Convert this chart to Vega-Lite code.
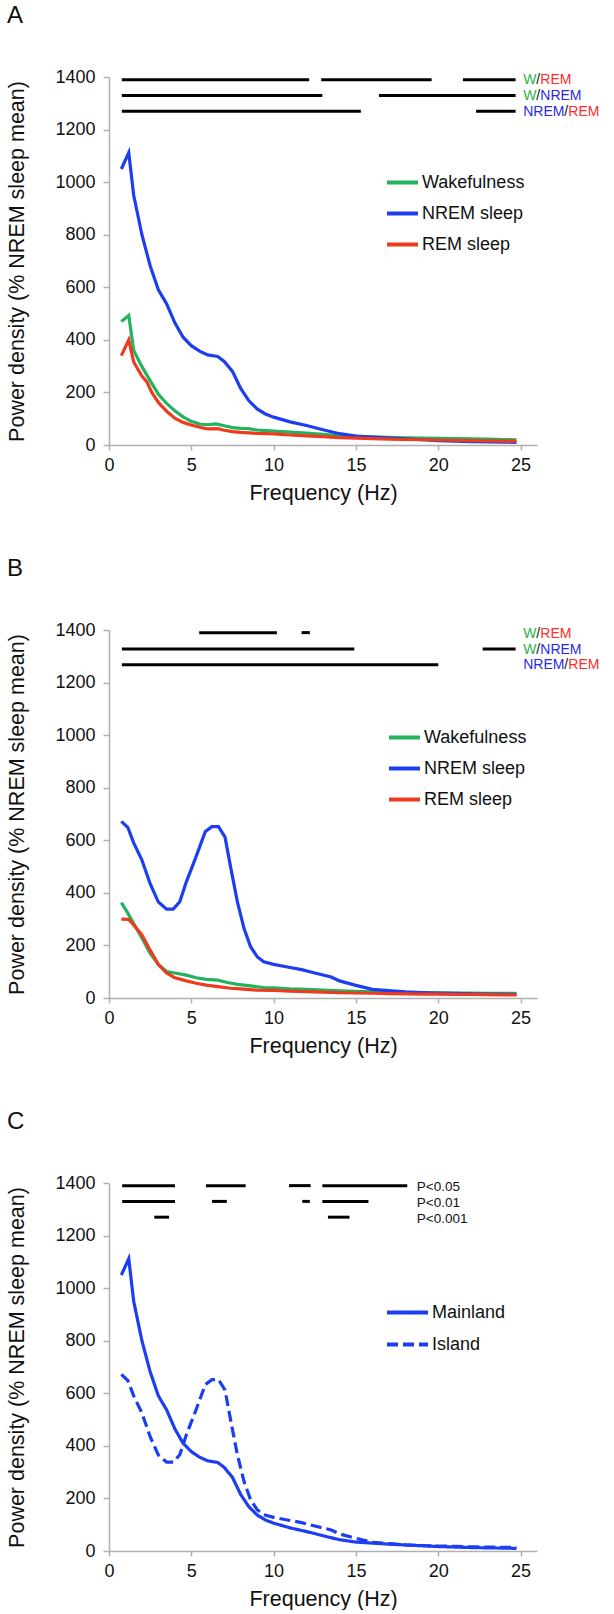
{
  "$schema": "https://vega.github.io/schema/vega-lite/v6.json",
  "padding": {"left": 6, "top": 4, "right": 0, "bottom": 0},
  "background": "white",
  "config": {
    "font": "Liberation Sans",
    "view": {"stroke": null},
    "axis": {"grid": false, "domainColor": "#b0b0b0", "tickColor": "#b0b0b0", "domainWidth": 1.5, "tickWidth": 1.5, "labelFontSize": 18, "labelColor": "#111111", "titleFontSize": 21.5, "titleFontWeight": "normal", "titleColor": "#111111", "labelFont": "Liberation Sans", "titleFont": "Liberation Sans", "format": "d"},
    "axisX": {"tickSize": 5, "labelPadding": 6, "titlePadding": 8, "labelFlush": false},
    "axisY": {"tickSize": 6, "labelPadding": 8, "titlePadding": 26},
    "legend": {"labelFontSize": 18, "labelFont": "Liberation Sans", "labelColor": "#111111", "symbolType": "stroke", "symbolStrokeWidth": 4, "labelOffset": 2, "rowPadding": 4, "padding": 0},
    "title": {"fontSize": 24, "fontWeight": "normal", "anchor": "start", "offset": 40, "font": "Liberation Sans", "color": "#111111"}
  },
  "resolve": {"scale": {"color": "independent", "strokeDash": "independent", "fill": "independent"}, "legend": {"color": "independent", "strokeDash": "independent"}},
  "spacing": 53,
  "datasets": {
    "curves": [
      {"panel": "A", "series": "Wakefulness", "f": 0.75, "p": 470}, {"panel": "A", "series": "Wakefulness", "f": 1.2, "p": 493}, {"panel": "A", "series": "Wakefulness", "f": 1.5, "p": 360}, {"panel": "A", "series": "Wakefulness", "f": 2, "p": 298}, {"panel": "A", "series": "Wakefulness", "f": 2.5, "p": 245}, {"panel": "A", "series": "Wakefulness", "f": 3, "p": 193}, {"panel": "A", "series": "Wakefulness", "f": 3.5, "p": 158}, {"panel": "A", "series": "Wakefulness", "f": 4, "p": 130}, {"panel": "A", "series": "Wakefulness", "f": 4.5, "p": 107}, {"panel": "A", "series": "Wakefulness", "f": 5, "p": 90}, {"panel": "A", "series": "Wakefulness", "f": 5.5, "p": 80}, {"panel": "A", "series": "Wakefulness", "f": 6, "p": 77}, {"panel": "A", "series": "Wakefulness", "f": 6.5, "p": 80}, {"panel": "A", "series": "Wakefulness", "f": 7, "p": 73}, {"panel": "A", "series": "Wakefulness", "f": 7.5, "p": 66}, {"panel": "A", "series": "Wakefulness", "f": 8, "p": 63}, {"panel": "A", "series": "Wakefulness", "f": 8.5, "p": 62}, {"panel": "A", "series": "Wakefulness", "f": 9, "p": 57}, {"panel": "A", "series": "Wakefulness", "f": 9.5, "p": 55}, {"panel": "A", "series": "Wakefulness", "f": 10, "p": 53}, {"panel": "A", "series": "Wakefulness", "f": 11, "p": 49}, {"panel": "A", "series": "Wakefulness", "f": 12, "p": 45}, {"panel": "A", "series": "Wakefulness", "f": 13, "p": 41}, {"panel": "A", "series": "Wakefulness", "f": 14, "p": 36}, {"panel": "A", "series": "Wakefulness", "f": 15, "p": 33}, {"panel": "A", "series": "Wakefulness", "f": 16, "p": 31}, {"panel": "A", "series": "Wakefulness", "f": 17, "p": 29}, {"panel": "A", "series": "Wakefulness", "f": 18, "p": 27}, {"panel": "A", "series": "Wakefulness", "f": 19, "p": 26}, {"panel": "A", "series": "Wakefulness", "f": 20, "p": 25}, {"panel": "A", "series": "Wakefulness", "f": 21, "p": 24}, {"panel": "A", "series": "Wakefulness", "f": 22, "p": 23}, {"panel": "A", "series": "Wakefulness", "f": 23, "p": 22}, {"panel": "A", "series": "Wakefulness", "f": 24, "p": 21}, {"panel": "A", "series": "Wakefulness", "f": 24.75, "p": 20},
      {"panel": "A", "series": "NREM sleep", "f": 0.75, "p": 1050}, {"panel": "A", "series": "NREM sleep", "f": 1.2, "p": 1112}, {"panel": "A", "series": "NREM sleep", "f": 1.5, "p": 950}, {"panel": "A", "series": "NREM sleep", "f": 2, "p": 800}, {"panel": "A", "series": "NREM sleep", "f": 2.5, "p": 682}, {"panel": "A", "series": "NREM sleep", "f": 3, "p": 590}, {"panel": "A", "series": "NREM sleep", "f": 3.5, "p": 537}, {"panel": "A", "series": "NREM sleep", "f": 4, "p": 465}, {"panel": "A", "series": "NREM sleep", "f": 4.5, "p": 410}, {"panel": "A", "series": "NREM sleep", "f": 5, "p": 378}, {"panel": "A", "series": "NREM sleep", "f": 5.5, "p": 357}, {"panel": "A", "series": "NREM sleep", "f": 6, "p": 343}, {"panel": "A", "series": "NREM sleep", "f": 6.6, "p": 337}, {"panel": "A", "series": "NREM sleep", "f": 7, "p": 318}, {"panel": "A", "series": "NREM sleep", "f": 7.5, "p": 280}, {"panel": "A", "series": "NREM sleep", "f": 8, "p": 215}, {"panel": "A", "series": "NREM sleep", "f": 8.5, "p": 168}, {"panel": "A", "series": "NREM sleep", "f": 9, "p": 137}, {"panel": "A", "series": "NREM sleep", "f": 9.5, "p": 118}, {"panel": "A", "series": "NREM sleep", "f": 10, "p": 106}, {"panel": "A", "series": "NREM sleep", "f": 11, "p": 88}, {"panel": "A", "series": "NREM sleep", "f": 12, "p": 74}, {"panel": "A", "series": "NREM sleep", "f": 13, "p": 58}, {"panel": "A", "series": "NREM sleep", "f": 14, "p": 43}, {"panel": "A", "series": "NREM sleep", "f": 15, "p": 34}, {"panel": "A", "series": "NREM sleep", "f": 16, "p": 30}, {"panel": "A", "series": "NREM sleep", "f": 17, "p": 26}, {"panel": "A", "series": "NREM sleep", "f": 18, "p": 23}, {"panel": "A", "series": "NREM sleep", "f": 19, "p": 20}, {"panel": "A", "series": "NREM sleep", "f": 20, "p": 17}, {"panel": "A", "series": "NREM sleep", "f": 21, "p": 15}, {"panel": "A", "series": "NREM sleep", "f": 22, "p": 13}, {"panel": "A", "series": "NREM sleep", "f": 23, "p": 12}, {"panel": "A", "series": "NREM sleep", "f": 24, "p": 11}, {"panel": "A", "series": "NREM sleep", "f": 24.75, "p": 10},
      {"panel": "A", "series": "REM sleep", "f": 0.75, "p": 340}, {"panel": "A", "series": "REM sleep", "f": 1.2, "p": 400}, {"panel": "A", "series": "REM sleep", "f": 1.5, "p": 316}, {"panel": "A", "series": "REM sleep", "f": 2, "p": 262}, {"panel": "A", "series": "REM sleep", "f": 2.3, "p": 240}, {"panel": "A", "series": "REM sleep", "f": 2.6, "p": 200}, {"panel": "A", "series": "REM sleep", "f": 3, "p": 162}, {"panel": "A", "series": "REM sleep", "f": 3.5, "p": 128}, {"panel": "A", "series": "REM sleep", "f": 4, "p": 102}, {"panel": "A", "series": "REM sleep", "f": 4.5, "p": 86}, {"panel": "A", "series": "REM sleep", "f": 5, "p": 76}, {"panel": "A", "series": "REM sleep", "f": 5.5, "p": 68}, {"panel": "A", "series": "REM sleep", "f": 6, "p": 61}, {"panel": "A", "series": "REM sleep", "f": 6.6, "p": 62}, {"panel": "A", "series": "REM sleep", "f": 7, "p": 56}, {"panel": "A", "series": "REM sleep", "f": 7.5, "p": 51}, {"panel": "A", "series": "REM sleep", "f": 8, "p": 48}, {"panel": "A", "series": "REM sleep", "f": 8.5, "p": 46}, {"panel": "A", "series": "REM sleep", "f": 9, "p": 44}, {"panel": "A", "series": "REM sleep", "f": 9.5, "p": 43}, {"panel": "A", "series": "REM sleep", "f": 10, "p": 42}, {"panel": "A", "series": "REM sleep", "f": 11, "p": 38}, {"panel": "A", "series": "REM sleep", "f": 12, "p": 35}, {"panel": "A", "series": "REM sleep", "f": 13, "p": 32}, {"panel": "A", "series": "REM sleep", "f": 14, "p": 28}, {"panel": "A", "series": "REM sleep", "f": 15, "p": 26}, {"panel": "A", "series": "REM sleep", "f": 16, "p": 24}, {"panel": "A", "series": "REM sleep", "f": 17, "p": 22}, {"panel": "A", "series": "REM sleep", "f": 18, "p": 21}, {"panel": "A", "series": "REM sleep", "f": 19, "p": 20}, {"panel": "A", "series": "REM sleep", "f": 20, "p": 19}, {"panel": "A", "series": "REM sleep", "f": 21, "p": 18}, {"panel": "A", "series": "REM sleep", "f": 22, "p": 17}, {"panel": "A", "series": "REM sleep", "f": 23, "p": 16}, {"panel": "A", "series": "REM sleep", "f": 24, "p": 15}, {"panel": "A", "series": "REM sleep", "f": 24.75, "p": 15},
      {"panel": "B", "series": "Wakefulness", "f": 0.75, "p": 363}, {"panel": "B", "series": "Wakefulness", "f": 1.15, "p": 322}, {"panel": "B", "series": "Wakefulness", "f": 1.5, "p": 283}, {"panel": "B", "series": "Wakefulness", "f": 2, "p": 228}, {"panel": "B", "series": "Wakefulness", "f": 2.5, "p": 170}, {"panel": "B", "series": "Wakefulness", "f": 3, "p": 128}, {"panel": "B", "series": "Wakefulness", "f": 3.5, "p": 101}, {"panel": "B", "series": "Wakefulness", "f": 4, "p": 95}, {"panel": "B", "series": "Wakefulness", "f": 4.7, "p": 87}, {"panel": "B", "series": "Wakefulness", "f": 5.3, "p": 77}, {"panel": "B", "series": "Wakefulness", "f": 5.9, "p": 71}, {"panel": "B", "series": "Wakefulness", "f": 6.6, "p": 68}, {"panel": "B", "series": "Wakefulness", "f": 7.2, "p": 59}, {"panel": "B", "series": "Wakefulness", "f": 7.8, "p": 52}, {"panel": "B", "series": "Wakefulness", "f": 8.6, "p": 46}, {"panel": "B", "series": "Wakefulness", "f": 9.4, "p": 40}, {"panel": "B", "series": "Wakefulness", "f": 10, "p": 39}, {"panel": "B", "series": "Wakefulness", "f": 11, "p": 35}, {"panel": "B", "series": "Wakefulness", "f": 12, "p": 33}, {"panel": "B", "series": "Wakefulness", "f": 13, "p": 30}, {"panel": "B", "series": "Wakefulness", "f": 14, "p": 27}, {"panel": "B", "series": "Wakefulness", "f": 15, "p": 25}, {"panel": "B", "series": "Wakefulness", "f": 16, "p": 23}, {"panel": "B", "series": "Wakefulness", "f": 17, "p": 22}, {"panel": "B", "series": "Wakefulness", "f": 18, "p": 21}, {"panel": "B", "series": "Wakefulness", "f": 19, "p": 20}, {"panel": "B", "series": "Wakefulness", "f": 20, "p": 20}, {"panel": "B", "series": "Wakefulness", "f": 21, "p": 19}, {"panel": "B", "series": "Wakefulness", "f": 22, "p": 19}, {"panel": "B", "series": "Wakefulness", "f": 23, "p": 18}, {"panel": "B", "series": "Wakefulness", "f": 24, "p": 18}, {"panel": "B", "series": "Wakefulness", "f": 24.75, "p": 18},
      {"panel": "B", "series": "NREM sleep", "f": 0.75, "p": 672}, {"panel": "B", "series": "NREM sleep", "f": 1.15, "p": 648}, {"panel": "B", "series": "NREM sleep", "f": 1.5, "p": 590}, {"panel": "B", "series": "NREM sleep", "f": 2, "p": 525}, {"panel": "B", "series": "NREM sleep", "f": 2.5, "p": 435}, {"panel": "B", "series": "NREM sleep", "f": 3, "p": 365}, {"panel": "B", "series": "NREM sleep", "f": 3.5, "p": 338}, {"panel": "B", "series": "NREM sleep", "f": 3.9, "p": 338}, {"panel": "B", "series": "NREM sleep", "f": 4.3, "p": 366}, {"panel": "B", "series": "NREM sleep", "f": 4.7, "p": 442}, {"panel": "B", "series": "NREM sleep", "f": 5.25, "p": 531}, {"panel": "B", "series": "NREM sleep", "f": 5.85, "p": 633}, {"panel": "B", "series": "NREM sleep", "f": 6.25, "p": 652}, {"panel": "B", "series": "NREM sleep", "f": 6.65, "p": 652}, {"panel": "B", "series": "NREM sleep", "f": 7.05, "p": 612}, {"panel": "B", "series": "NREM sleep", "f": 7.4, "p": 494}, {"panel": "B", "series": "NREM sleep", "f": 7.8, "p": 366}, {"panel": "B", "series": "NREM sleep", "f": 8.2, "p": 265}, {"panel": "B", "series": "NREM sleep", "f": 8.6, "p": 195}, {"panel": "B", "series": "NREM sleep", "f": 9, "p": 157}, {"panel": "B", "series": "NREM sleep", "f": 9.4, "p": 138}, {"panel": "B", "series": "NREM sleep", "f": 10, "p": 128}, {"panel": "B", "series": "NREM sleep", "f": 11, "p": 116}, {"panel": "B", "series": "NREM sleep", "f": 11.7, "p": 108}, {"panel": "B", "series": "NREM sleep", "f": 12.5, "p": 95}, {"panel": "B", "series": "NREM sleep", "f": 13.5, "p": 80}, {"panel": "B", "series": "NREM sleep", "f": 14, "p": 65}, {"panel": "B", "series": "NREM sleep", "f": 15, "p": 48}, {"panel": "B", "series": "NREM sleep", "f": 16, "p": 33}, {"panel": "B", "series": "NREM sleep", "f": 17, "p": 28}, {"panel": "B", "series": "NREM sleep", "f": 18, "p": 23}, {"panel": "B", "series": "NREM sleep", "f": 19, "p": 21}, {"panel": "B", "series": "NREM sleep", "f": 20, "p": 19}, {"panel": "B", "series": "NREM sleep", "f": 21, "p": 18}, {"panel": "B", "series": "NREM sleep", "f": 22, "p": 16}, {"panel": "B", "series": "NREM sleep", "f": 23, "p": 15}, {"panel": "B", "series": "NREM sleep", "f": 24, "p": 14}, {"panel": "B", "series": "NREM sleep", "f": 24.75, "p": 14},
      {"panel": "B", "series": "REM sleep", "f": 0.75, "p": 300}, {"panel": "B", "series": "REM sleep", "f": 1.2, "p": 299}, {"panel": "B", "series": "REM sleep", "f": 1.5, "p": 278}, {"panel": "B", "series": "REM sleep", "f": 2, "p": 240}, {"panel": "B", "series": "REM sleep", "f": 2.5, "p": 182}, {"panel": "B", "series": "REM sleep", "f": 3, "p": 127}, {"panel": "B", "series": "REM sleep", "f": 3.5, "p": 95}, {"panel": "B", "series": "REM sleep", "f": 4, "p": 77}, {"panel": "B", "series": "REM sleep", "f": 4.7, "p": 65}, {"panel": "B", "series": "REM sleep", "f": 5.3, "p": 56}, {"panel": "B", "series": "REM sleep", "f": 5.9, "p": 49}, {"panel": "B", "series": "REM sleep", "f": 6.6, "p": 43}, {"panel": "B", "series": "REM sleep", "f": 7.4, "p": 37}, {"panel": "B", "series": "REM sleep", "f": 8.2, "p": 34}, {"panel": "B", "series": "REM sleep", "f": 9, "p": 30}, {"panel": "B", "series": "REM sleep", "f": 10, "p": 29}, {"panel": "B", "series": "REM sleep", "f": 11, "p": 26}, {"panel": "B", "series": "REM sleep", "f": 12, "p": 24}, {"panel": "B", "series": "REM sleep", "f": 13, "p": 22}, {"panel": "B", "series": "REM sleep", "f": 14, "p": 20}, {"panel": "B", "series": "REM sleep", "f": 15, "p": 19}, {"panel": "B", "series": "REM sleep", "f": 16, "p": 18}, {"panel": "B", "series": "REM sleep", "f": 17, "p": 17}, {"panel": "B", "series": "REM sleep", "f": 18, "p": 16}, {"panel": "B", "series": "REM sleep", "f": 19, "p": 15}, {"panel": "B", "series": "REM sleep", "f": 20, "p": 15}, {"panel": "B", "series": "REM sleep", "f": 21, "p": 14}, {"panel": "B", "series": "REM sleep", "f": 22, "p": 14}, {"panel": "B", "series": "REM sleep", "f": 23, "p": 13}, {"panel": "B", "series": "REM sleep", "f": 24, "p": 12}, {"panel": "B", "series": "REM sleep", "f": 24.75, "p": 12},
      {"panel": "C", "series": "Mainland", "f": 0.75, "p": 1050}, {"panel": "C", "series": "Mainland", "f": 1.2, "p": 1112}, {"panel": "C", "series": "Mainland", "f": 1.5, "p": 950}, {"panel": "C", "series": "Mainland", "f": 2, "p": 800}, {"panel": "C", "series": "Mainland", "f": 2.5, "p": 682}, {"panel": "C", "series": "Mainland", "f": 3, "p": 590}, {"panel": "C", "series": "Mainland", "f": 3.5, "p": 537}, {"panel": "C", "series": "Mainland", "f": 4, "p": 465}, {"panel": "C", "series": "Mainland", "f": 4.5, "p": 410}, {"panel": "C", "series": "Mainland", "f": 5, "p": 378}, {"panel": "C", "series": "Mainland", "f": 5.5, "p": 357}, {"panel": "C", "series": "Mainland", "f": 6, "p": 343}, {"panel": "C", "series": "Mainland", "f": 6.6, "p": 337}, {"panel": "C", "series": "Mainland", "f": 7, "p": 318}, {"panel": "C", "series": "Mainland", "f": 7.5, "p": 280}, {"panel": "C", "series": "Mainland", "f": 8, "p": 215}, {"panel": "C", "series": "Mainland", "f": 8.5, "p": 168}, {"panel": "C", "series": "Mainland", "f": 9, "p": 137}, {"panel": "C", "series": "Mainland", "f": 9.5, "p": 118}, {"panel": "C", "series": "Mainland", "f": 10, "p": 106}, {"panel": "C", "series": "Mainland", "f": 11, "p": 88}, {"panel": "C", "series": "Mainland", "f": 12, "p": 74}, {"panel": "C", "series": "Mainland", "f": 13, "p": 58}, {"panel": "C", "series": "Mainland", "f": 14, "p": 43}, {"panel": "C", "series": "Mainland", "f": 15, "p": 34}, {"panel": "C", "series": "Mainland", "f": 16, "p": 30}, {"panel": "C", "series": "Mainland", "f": 17, "p": 26}, {"panel": "C", "series": "Mainland", "f": 18, "p": 23}, {"panel": "C", "series": "Mainland", "f": 19, "p": 20}, {"panel": "C", "series": "Mainland", "f": 20, "p": 17}, {"panel": "C", "series": "Mainland", "f": 21, "p": 15}, {"panel": "C", "series": "Mainland", "f": 22, "p": 13}, {"panel": "C", "series": "Mainland", "f": 23, "p": 12}, {"panel": "C", "series": "Mainland", "f": 24, "p": 11}, {"panel": "C", "series": "Mainland", "f": 24.75, "p": 10},
      {"panel": "C", "series": "Island", "f": 0.75, "p": 672}, {"panel": "C", "series": "Island", "f": 1.15, "p": 648}, {"panel": "C", "series": "Island", "f": 1.5, "p": 590}, {"panel": "C", "series": "Island", "f": 2, "p": 525}, {"panel": "C", "series": "Island", "f": 2.5, "p": 435}, {"panel": "C", "series": "Island", "f": 3, "p": 365}, {"panel": "C", "series": "Island", "f": 3.5, "p": 338}, {"panel": "C", "series": "Island", "f": 3.9, "p": 338}, {"panel": "C", "series": "Island", "f": 4.3, "p": 366}, {"panel": "C", "series": "Island", "f": 4.7, "p": 442}, {"panel": "C", "series": "Island", "f": 5.25, "p": 531}, {"panel": "C", "series": "Island", "f": 5.85, "p": 633}, {"panel": "C", "series": "Island", "f": 6.25, "p": 652}, {"panel": "C", "series": "Island", "f": 6.65, "p": 652}, {"panel": "C", "series": "Island", "f": 7.05, "p": 612}, {"panel": "C", "series": "Island", "f": 7.4, "p": 494}, {"panel": "C", "series": "Island", "f": 7.8, "p": 366}, {"panel": "C", "series": "Island", "f": 8.2, "p": 265}, {"panel": "C", "series": "Island", "f": 8.6, "p": 195}, {"panel": "C", "series": "Island", "f": 9, "p": 157}, {"panel": "C", "series": "Island", "f": 9.4, "p": 138}, {"panel": "C", "series": "Island", "f": 10, "p": 128}, {"panel": "C", "series": "Island", "f": 11, "p": 116}, {"panel": "C", "series": "Island", "f": 11.7, "p": 108}, {"panel": "C", "series": "Island", "f": 12.5, "p": 95}, {"panel": "C", "series": "Island", "f": 13.5, "p": 80}, {"panel": "C", "series": "Island", "f": 14, "p": 65}, {"panel": "C", "series": "Island", "f": 15, "p": 48}, {"panel": "C", "series": "Island", "f": 16, "p": 33}, {"panel": "C", "series": "Island", "f": 17, "p": 28}, {"panel": "C", "series": "Island", "f": 18, "p": 23}, {"panel": "C", "series": "Island", "f": 19, "p": 21}, {"panel": "C", "series": "Island", "f": 20, "p": 19}, {"panel": "C", "series": "Island", "f": 21, "p": 18}, {"panel": "C", "series": "Island", "f": 22, "p": 16}, {"panel": "C", "series": "Island", "f": 23, "p": 15}, {"panel": "C", "series": "Island", "f": 24, "p": 14}, {"panel": "C", "series": "Island", "f": 24.75, "p": 14}
    ],
    "sig": [
      {"panel": "A", "y": 1390, "start": 0.78, "end": 12.16}, {"panel": "A", "y": 1390, "start": 12.89, "end": 19.6}, {"panel": "A", "y": 1390, "start": 21.5, "end": 24.7},
      {"panel": "A", "y": 1330, "start": 0.78, "end": 12.96}, {"panel": "A", "y": 1330, "start": 16.4, "end": 24.7},
      {"panel": "A", "y": 1270, "start": 0.78, "end": 15.3}, {"panel": "A", "y": 1270, "start": 22.3, "end": 24.7},
      {"panel": "B", "y": 1390, "start": 5.48, "end": 10.2}, {"panel": "B", "y": 1390, "start": 11.7, "end": 12.2},
      {"panel": "B", "y": 1328, "start": 0.78, "end": 14.9}, {"panel": "B", "y": 1328, "start": 22.7, "end": 24.7},
      {"panel": "B", "y": 1268, "start": 0.78, "end": 20.0},
      {"panel": "C", "y": 1390, "start": 0.8, "end": 4.01}, {"panel": "C", "y": 1390, "start": 5.89, "end": 8.3}, {"panel": "C", "y": 1390, "start": 10.94, "end": 12.25}, {"panel": "C", "y": 1390, "start": 12.96, "end": 18.12},
      {"panel": "C", "y": 1330, "start": 0.8, "end": 4.01}, {"panel": "C", "y": 1330, "start": 6.26, "end": 7.16}, {"panel": "C", "y": 1330, "start": 11.74, "end": 12.2}, {"panel": "C", "y": 1330, "start": 12.96, "end": 15.76},
      {"panel": "C", "y": 1270, "start": 2.75, "end": 3.65}, {"panel": "C", "y": 1270, "start": 13.3, "end": 14.61}
    ],
    "lab": [
      {"panel": "A", "x": 25.16, "y": 1387, "first": "W", "second": "REM"},
      {"panel": "A", "x": 25.16, "y": 1326, "first": "W", "second": "NREM"},
      {"panel": "A", "x": 25.16, "y": 1266, "first": "NREM", "second": "REM"},
      {"panel": "B", "x": 25.16, "y": 1386, "first": "W", "second": "REM"},
      {"panel": "B", "x": 25.16, "y": 1324, "first": "W", "second": "NREM"},
      {"panel": "B", "x": 25.16, "y": 1265, "first": "NREM", "second": "REM"}
    ],
    "plab": [
      {"panel": "C", "x": 18.7, "y": 1385, "label": "P<0.05"},
      {"panel": "C", "x": 18.7, "y": 1324, "label": "P<0.01"},
      {"panel": "C", "x": 18.7, "y": 1262, "label": "P<0.001"}
    ]
  },
  "vconcat": [
    {
      "title": "A",
      "width": 428,
      "height": 368,
      "layer": [
        {"data": {"name": "curves"}, "transform": [{"filter": "datum.panel === 'A'"}],
         "mark": {"type": "line", "strokeWidth": 3.2},
         "encoding": {
           "x": {"field": "f", "type": "quantitative", "title": "Frequency (Hz)", "scale": {"domain": [0, 25]}, "axis": {"values": [0, 5, 10, 15, 20, 25]}},
           "y": {"field": "p", "type": "quantitative", "title": "Power density (% NREM sleep mean)", "scale": {"domain": [0, 1400]}, "axis": {"values": [0, 200, 400, 600, 800, 1000, 1200, 1400]}},
           "color": {"field": "series", "type": "nominal", "sort": ["Wakefulness", "NREM sleep", "REM sleep"], "scale": {"domain": ["Wakefulness", "NREM sleep", "REM sleep"], "range": ["#22b35e", "#1c3ef0", "#ee3b1f"]}, "legend": {"orient": "none", "legendX": 276, "legendY": 88, "title": null, "symbolSize": 961}}
         }},
        {"data": {"name": "sig"}, "transform": [{"filter": "datum.panel === 'A'"}],
         "mark": {"type": "rule", "strokeWidth": 3, "color": "#000000"},
         "encoding": {"x": {"field": "start", "type": "quantitative", "title": "Frequency (Hz)"}, "x2": {"field": "end"}, "y": {"field": "y", "type": "quantitative", "title": "Power density (% NREM sleep mean)"}}},
        {"data": {"name": "lab"}, "transform": [{"filter": "datum.panel === 'A'"}],
         "mark": {"type": "text", "align": "left", "baseline": "middle", "fontSize": 14},
         "encoding": {"x": {"field": "x", "type": "quantitative", "title": "Frequency (Hz)"}, "y": {"field": "y", "type": "quantitative", "title": "Power density (% NREM sleep mean)"}, "text": {"field": "first"}, "fill": {"field": "first", "type": "nominal", "scale": {"domain": ["W", "NREM", "REM"], "range": ["#2bb24c", "#2a2ae6", "#ff2a2a"]}, "legend": null}}},
        {"data": {"name": "lab"}, "transform": [{"filter": "datum.panel === 'A' && datum.first === 'W'"}],
         "mark": {"type": "text", "align": "left", "baseline": "middle", "fontSize": 14, "dx": 13.2, "color": "#111111"},
         "encoding": {"x": {"field": "x", "type": "quantitative", "title": "Frequency (Hz)"}, "y": {"field": "y", "type": "quantitative", "title": "Power density (% NREM sleep mean)"}, "text": {"value": "/"}}},
        {"data": {"name": "lab"}, "transform": [{"filter": "datum.panel === 'A' && datum.first === 'NREM'"}],
         "mark": {"type": "text", "align": "left", "baseline": "middle", "fontSize": 14, "dx": 41.2, "color": "#111111"},
         "encoding": {"x": {"field": "x", "type": "quantitative", "title": "Frequency (Hz)"}, "y": {"field": "y", "type": "quantitative", "title": "Power density (% NREM sleep mean)"}, "text": {"value": "/"}}},
        {"data": {"name": "lab"}, "transform": [{"filter": "datum.panel === 'A' && datum.first === 'W'"}],
         "mark": {"type": "text", "align": "left", "baseline": "middle", "fontSize": 14, "dx": 17.1},
         "encoding": {"x": {"field": "x", "type": "quantitative", "title": "Frequency (Hz)"}, "y": {"field": "y", "type": "quantitative", "title": "Power density (% NREM sleep mean)"}, "text": {"field": "second"}, "fill": {"field": "second", "type": "nominal", "legend": null}}},
        {"data": {"name": "lab"}, "transform": [{"filter": "datum.panel === 'A' && datum.first === 'NREM'"}],
         "mark": {"type": "text", "align": "left", "baseline": "middle", "fontSize": 14, "dx": 45.1},
         "encoding": {"x": {"field": "x", "type": "quantitative", "title": "Frequency (Hz)"}, "y": {"field": "y", "type": "quantitative", "title": "Power density (% NREM sleep mean)"}, "text": {"field": "second"}, "fill": {"field": "second", "type": "nominal", "legend": null}}}
      ]
    },
    {
      "title": "B",
      "width": 428,
      "height": 368,
      "layer": [
        {"data": {"name": "curves"}, "transform": [{"filter": "datum.panel === 'B'"}],
         "mark": {"type": "line", "strokeWidth": 3.2},
         "encoding": {
           "x": {"field": "f", "type": "quantitative", "title": "Frequency (Hz)", "scale": {"domain": [0, 25]}, "axis": {"values": [0, 5, 10, 15, 20, 25]}},
           "y": {"field": "p", "type": "quantitative", "title": "Power density (% NREM sleep mean)", "scale": {"domain": [0, 1400]}, "axis": {"values": [0, 200, 400, 600, 800, 1000, 1200, 1400]}},
           "color": {"field": "series", "type": "nominal", "sort": ["Wakefulness", "NREM sleep", "REM sleep"], "scale": {"domain": ["Wakefulness", "NREM sleep", "REM sleep"], "range": ["#22b35e", "#1c3ef0", "#ee3b1f"]}, "legend": {"orient": "none", "legendX": 278, "legendY": 90, "title": null, "symbolSize": 961}}
         }},
        {"data": {"name": "sig"}, "transform": [{"filter": "datum.panel === 'B'"}],
         "mark": {"type": "rule", "strokeWidth": 3, "color": "#000000"},
         "encoding": {"x": {"field": "start", "type": "quantitative", "title": "Frequency (Hz)"}, "x2": {"field": "end"}, "y": {"field": "y", "type": "quantitative", "title": "Power density (% NREM sleep mean)"}}},
        {"data": {"name": "lab"}, "transform": [{"filter": "datum.panel === 'B'"}],
         "mark": {"type": "text", "align": "left", "baseline": "middle", "fontSize": 14},
         "encoding": {"x": {"field": "x", "type": "quantitative", "title": "Frequency (Hz)"}, "y": {"field": "y", "type": "quantitative", "title": "Power density (% NREM sleep mean)"}, "text": {"field": "first"}, "fill": {"field": "first", "type": "nominal", "scale": {"domain": ["W", "NREM", "REM"], "range": ["#2bb24c", "#2a2ae6", "#ff2a2a"]}, "legend": null}}},
        {"data": {"name": "lab"}, "transform": [{"filter": "datum.panel === 'B' && datum.first === 'W'"}],
         "mark": {"type": "text", "align": "left", "baseline": "middle", "fontSize": 14, "dx": 13.2, "color": "#111111"},
         "encoding": {"x": {"field": "x", "type": "quantitative", "title": "Frequency (Hz)"}, "y": {"field": "y", "type": "quantitative", "title": "Power density (% NREM sleep mean)"}, "text": {"value": "/"}}},
        {"data": {"name": "lab"}, "transform": [{"filter": "datum.panel === 'B' && datum.first === 'NREM'"}],
         "mark": {"type": "text", "align": "left", "baseline": "middle", "fontSize": 14, "dx": 41.2, "color": "#111111"},
         "encoding": {"x": {"field": "x", "type": "quantitative", "title": "Frequency (Hz)"}, "y": {"field": "y", "type": "quantitative", "title": "Power density (% NREM sleep mean)"}, "text": {"value": "/"}}},
        {"data": {"name": "lab"}, "transform": [{"filter": "datum.panel === 'B' && datum.first === 'W'"}],
         "mark": {"type": "text", "align": "left", "baseline": "middle", "fontSize": 14, "dx": 17.1},
         "encoding": {"x": {"field": "x", "type": "quantitative", "title": "Frequency (Hz)"}, "y": {"field": "y", "type": "quantitative", "title": "Power density (% NREM sleep mean)"}, "text": {"field": "second"}, "fill": {"field": "second", "type": "nominal", "legend": null}}},
        {"data": {"name": "lab"}, "transform": [{"filter": "datum.panel === 'B' && datum.first === 'NREM'"}],
         "mark": {"type": "text", "align": "left", "baseline": "middle", "fontSize": 14, "dx": 45.1},
         "encoding": {"x": {"field": "x", "type": "quantitative", "title": "Frequency (Hz)"}, "y": {"field": "y", "type": "quantitative", "title": "Power density (% NREM sleep mean)"}, "text": {"field": "second"}, "fill": {"field": "second", "type": "nominal", "legend": null}}}
      ]
    },
    {
      "title": "C",
      "width": 428,
      "height": 368,
      "layer": [
        {"data": {"name": "curves"}, "transform": [{"filter": "datum.panel === 'C'"}],
         "mark": {"type": "line", "strokeWidth": 3.2, "color": "#1c3ef0"},
         "encoding": {
           "x": {"field": "f", "type": "quantitative", "title": "Frequency (Hz)", "scale": {"domain": [0, 25]}, "axis": {"values": [0, 5, 10, 15, 20, 25]}},
           "y": {"field": "p", "type": "quantitative", "title": "Power density (% NREM sleep mean)", "scale": {"domain": [0, 1400]}, "axis": {"values": [0, 200, 400, 600, 800, 1000, 1200, 1400]}},
           "strokeDash": {"field": "series", "type": "nominal", "sort": ["Mainland", "Island"], "scale": {"domain": ["Mainland", "Island"], "range": [[1, 0], [11, 5]]}, "legend": {"orient": "none", "legendX": 276, "legendY": 107, "title": null, "symbolSize": 1681, "symbolStrokeColor": "#1c3ef0", "rowPadding": -5}}
         }},
        {"data": {"name": "sig"}, "transform": [{"filter": "datum.panel === 'C'"}],
         "mark": {"type": "rule", "strokeWidth": 3, "color": "#000000"},
         "encoding": {"x": {"field": "start", "type": "quantitative", "title": "Frequency (Hz)"}, "x2": {"field": "end"}, "y": {"field": "y", "type": "quantitative", "title": "Power density (% NREM sleep mean)"}}},
        {"data": {"name": "plab"}, "transform": [{"filter": "datum.panel === 'C'"}],
         "mark": {"type": "text", "align": "left", "baseline": "middle", "fontSize": 13.5, "color": "#111111"},
         "encoding": {"x": {"field": "x", "type": "quantitative", "title": "Frequency (Hz)"}, "y": {"field": "y", "type": "quantitative", "title": "Power density (% NREM sleep mean)"}, "text": {"field": "label"}}}
      ]
    }
  ]
}
